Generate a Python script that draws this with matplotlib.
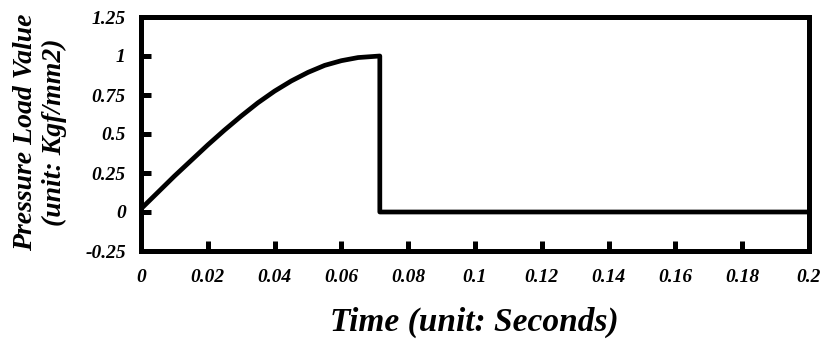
import matplotlib
matplotlib.use("Agg")
import matplotlib.pyplot as plt

# Load pulse (seconds, Kgf/mm2)
t_rise = [0, 0.005, 0.01, 0.015, 0.02, 0.025, 0.03, 0.035, 0.04, 0.045,
          0.05, 0.055, 0.06, 0.065, 0.0715]
p_rise = [0.02, 0.125, 0.23, 0.33, 0.43, 0.525, 0.615, 0.70, 0.775, 0.84,
          0.895, 0.94, 0.97, 0.99, 1.0]
t_drop = [0.0715, 0.2]
p_drop = [0.0, 0.0]

x_ticks = [0, 0.02, 0.04, 0.06, 0.08, 0.1, 0.12, 0.14, 0.16, 0.18, 0.2]
x_labels = ["0", "0.02", "0.04", "0.06", "0.08", "0.1", "0.12", "0.14", "0.16", "0.18", "0.2"]
y_ticks = [-0.25, 0, 0.25, 0.5, 0.75, 1, 1.25]
y_labels = ["-0.25", "0", "0.25", "0.5", "0.75", "1", "1.25"]

plt.rcParams['font.family'] = ['Liberation Serif', 'DejaVu Serif']

fig = plt.figure(figsize=(8.23, 3.44), dpi=100)
ax = fig.add_axes([141 / 823, 1 - 251 / 344, 668 / 823, 234 / 344])

ax.plot(t_rise + t_drop, p_rise + p_drop, color='black', lw=3.4,
        solid_joinstyle='round')

ax.set_xlim(0, 0.2)
ax.set_ylim(-0.25, 1.25)
ax.set_xticks(x_ticks)
ax.set_xticklabels(x_labels)
ax.set_yticks(y_ticks)
ax.set_yticklabels(y_labels)

for s in ax.spines.values():
    s.set_linewidth(3.6)
ax.tick_params(direction='in', length=7, width=3.6, labelsize=14)
ax.tick_params(axis='x', pad=13)
ax.tick_params(axis='y', pad=11)
for lab in ax.get_xticklabels() + ax.get_yticklabels():
    lab.set_fontweight('bold')
    lab.set_fontstyle('italic')

fig.text(474 / 823, 1 - 322 / 344, "Time (unit: Seconds)", ha='center', va='center',
         fontsize=24, fontweight='bold', fontstyle='italic')
fig.text(40 / 823, 1 - 132 / 344, "Pressure Load Value\n(unit: Kgf/mm2)", ha='center',
         va='center', rotation=90, fontsize=20, fontweight='bold', fontstyle='italic',
         linespacing=1.25)

fig.savefig("out.png", dpi=100)
